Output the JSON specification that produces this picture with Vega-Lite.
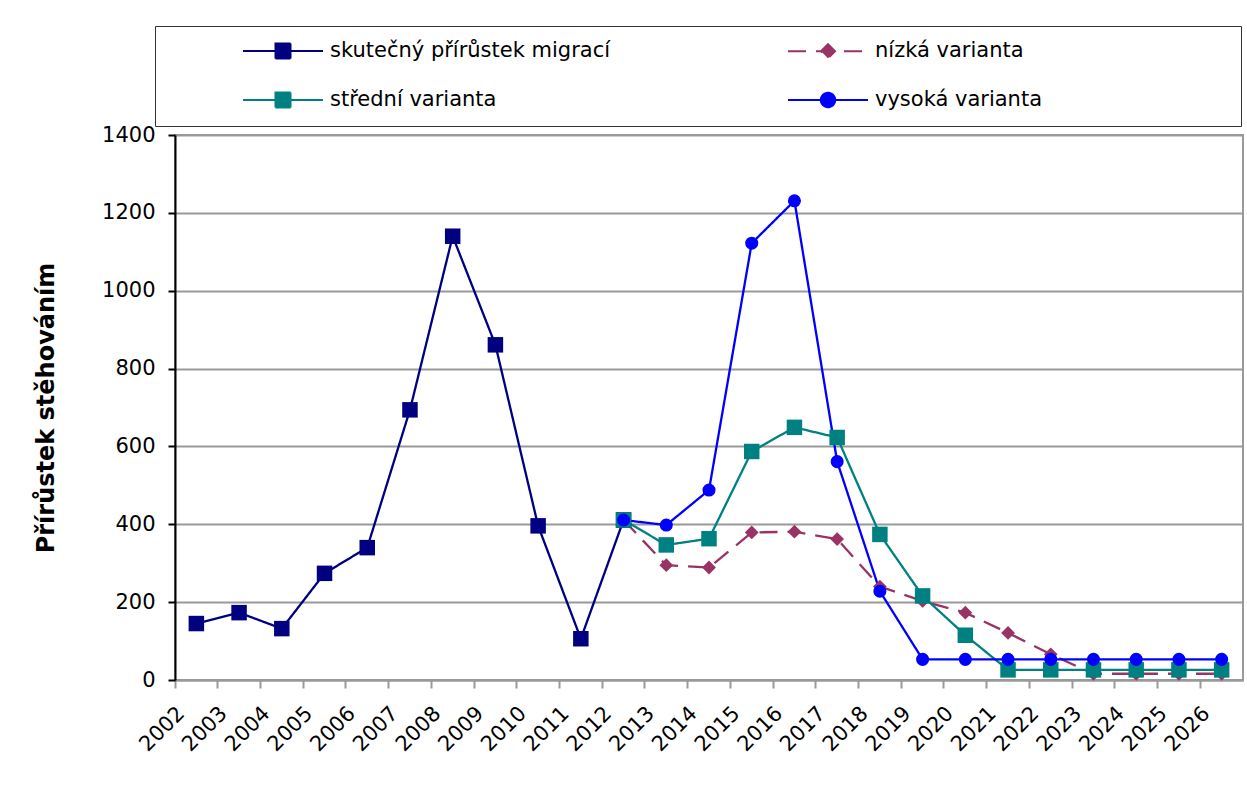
{
  "$schema": "https://vega.github.io/schema/vega-lite/v6.json",
  "width": 1068,
  "height": 545,
  "autosize": "none",
  "padding": {"left": 175, "top": 135, "right": 4, "bottom": 119},
  "background": "white",
  "config": {
    "font": "DejaVu Sans",
    "view": {"stroke": "#999999", "strokeWidth": 2},
    "legend": {
      "orient": "none",
      "legendX": -20,
      "legendY": -109,
      "columns": 2,
      "padding": 14.5,
      "strokeColor": "#333333",
      "fillColor": "white",
      "symbolSize": 256,
      "symbolStrokeWidth": 2,
      "symbolOpacity": 1,
      "symbolOffset": 63,
      "labelOffset": 76.5,
      "labelFontSize": 21,
      "labelColor": "black",
      "labelLimit": 0,
      "columnPadding": 33,
      "rowPadding": 26
    }
  },
  "data": {
    "values": [
      {"year": "2002", "series": "skutečný přírůstek migrací", "value": 145},
      {"year": "2003", "series": "skutečný přírůstek migrací", "value": 173},
      {"year": "2004", "series": "skutečný přírůstek migrací", "value": 132},
      {"year": "2005", "series": "skutečný přírůstek migrací", "value": 274},
      {"year": "2006", "series": "skutečný přírůstek migrací", "value": 340},
      {"year": "2007", "series": "skutečný přírůstek migrací", "value": 694},
      {"year": "2008", "series": "skutečný přírůstek migrací", "value": 1140},
      {"year": "2009", "series": "skutečný přírůstek migrací", "value": 861},
      {"year": "2010", "series": "skutečný přírůstek migrací", "value": 396},
      {"year": "2011", "series": "skutečný přírůstek migrací", "value": 106},
      {"year": "2012", "series": "skutečný přírůstek migrací", "value": 411},
      {"year": "2012", "series": "nízká varianta", "value": 411},
      {"year": "2013", "series": "nízká varianta", "value": 295},
      {"year": "2014", "series": "nízká varianta", "value": 289},
      {"year": "2015", "series": "nízká varianta", "value": 379},
      {"year": "2016", "series": "nízká varianta", "value": 381},
      {"year": "2017", "series": "nízká varianta", "value": 362},
      {"year": "2018", "series": "nízká varianta", "value": 240},
      {"year": "2019", "series": "nízká varianta", "value": 203},
      {"year": "2020", "series": "nízká varianta", "value": 173},
      {"year": "2021", "series": "nízká varianta", "value": 121},
      {"year": "2022", "series": "nízká varianta", "value": 66},
      {"year": "2023", "series": "nízká varianta", "value": 16},
      {"year": "2024", "series": "nízká varianta", "value": 16},
      {"year": "2025", "series": "nízká varianta", "value": 16},
      {"year": "2026", "series": "nízká varianta", "value": 16},
      {"year": "2012", "series": "střední varianta", "value": 411},
      {"year": "2013", "series": "střední varianta", "value": 347},
      {"year": "2014", "series": "střední varianta", "value": 363},
      {"year": "2015", "series": "střední varianta", "value": 587},
      {"year": "2016", "series": "střední varianta", "value": 649},
      {"year": "2017", "series": "střední varianta", "value": 623},
      {"year": "2018", "series": "střední varianta", "value": 374},
      {"year": "2019", "series": "střední varianta", "value": 216},
      {"year": "2020", "series": "střední varianta", "value": 115},
      {"year": "2021", "series": "střední varianta", "value": 26},
      {"year": "2022", "series": "střední varianta", "value": 26},
      {"year": "2023", "series": "střední varianta", "value": 26},
      {"year": "2024", "series": "střední varianta", "value": 26},
      {"year": "2025", "series": "střední varianta", "value": 26},
      {"year": "2026", "series": "střední varianta", "value": 26},
      {"year": "2012", "series": "vysoká varianta", "value": 411},
      {"year": "2013", "series": "vysoká varianta", "value": 398},
      {"year": "2014", "series": "vysoká varianta", "value": 488},
      {"year": "2015", "series": "vysoká varianta", "value": 1122},
      {"year": "2016", "series": "vysoká varianta", "value": 1231},
      {"year": "2017", "series": "vysoká varianta", "value": 561},
      {"year": "2018", "series": "vysoká varianta", "value": 228},
      {"year": "2019", "series": "vysoká varianta", "value": 53},
      {"year": "2020", "series": "vysoká varianta", "value": 53},
      {"year": "2021", "series": "vysoká varianta", "value": 53},
      {"year": "2022", "series": "vysoká varianta", "value": 53},
      {"year": "2023", "series": "vysoká varianta", "value": 53},
      {"year": "2024", "series": "vysoká varianta", "value": 53},
      {"year": "2025", "series": "vysoká varianta", "value": 53},
      {"year": "2026", "series": "vysoká varianta", "value": 53}
    ]
  },
  "encoding": {
    "x": {
      "field": "year",
      "type": "ordinal",
      "scale": {"type": "band", "paddingInner": 0, "paddingOuter": 0},
      "axis": {
        "title": null,
        "bandPosition": 0,
        "labelAngle": -45,
        "labelAlign": "right",
        "labelBaseline": "middle",
        "labelFontSize": 21,
        "labelColor": "black",
        "labelPadding": 22,
        "labelOffset": -15,
        "tickSize": 8,
        "tickColor": "#999999",
        "tickWidth": 2,
        "domainColor": "#999999",
        "domainWidth": 2,
        "grid": false
      }
    },
    "y": {
      "field": "value",
      "type": "quantitative",
      "scale": {"domain": [0, 1400], "nice": false},
      "axis": {
        "title": "Přírůstek stěhováním",
        "titleFontSize": 24,
        "titleFontWeight": "bold",
        "titleColor": "black",
        "titlePadding": 43,
        "format": "d",
        "values": [0, 200, 400, 600, 800, 1000, 1200, 1400],
        "labelFontSize": 21,
        "labelColor": "black",
        "labelPadding": 13,
        "tickSize": 7,
        "tickColor": "black",
        "tickWidth": 2,
        "domainColor": "black",
        "domainWidth": 2,
        "grid": true,
        "gridColor": "#999999",
        "gridWidth": 2
      }
    },
    "color": {
      "field": "series",
      "type": "nominal",
      "title": null,
      "scale": {
        "domain": ["skutečný přírůstek migrací", "střední varianta", "nízká varianta", "vysoká varianta"],
        "range": ["#000080", "#008080", "#993366", "#0000FF"]
      }
    }
  },
  "layer": [
    {
      "mark": {"type": "line", "strokeWidth": 2.3},
      "encoding": {
        "strokeDash": {
          "field": "series",
          "type": "nominal",
          "title": null,
          "scale": {
            "domain": ["skutečný přírůstek migrací", "střední varianta", "nízká varianta", "vysoká varianta"],
            "range": [[1, 0], [1, 0], [18, 10], [1, 0]]
          }
        }
      }
    },
    {
      "transform": [{"filter": "datum.series === 'nízká varianta'"}],
      "mark": {"type": "point", "filled": true, "opacity": 1, "shape": "diamond", "size": 190}
    },
    {
      "transform": [{"filter": "datum.series === 'skutečný přírůstek migrací' || datum.series === 'střední varianta'"}],
      "mark": {"type": "point", "filled": true, "opacity": 1, "shape": "square", "size": 240}
    },
    {
      "transform": [{"filter": "datum.series === 'vysoká varianta'"}],
      "mark": {"type": "point", "filled": true, "opacity": 1, "shape": "circle", "size": 170}
    },
    {
      "mark": {"type": "point", "filled": true, "opacity": 0},
      "encoding": {
        "shape": {
          "field": "series",
          "type": "nominal",
          "title": null,
          "scale": {
            "domain": ["skutečný přírůstek migrací", "střední varianta", "nízká varianta", "vysoká varianta"],
            "range": [
              "M0,0H10M4.0625,-0.9375H5.9375V0.9375H4.0625ZM54.3,0",
              "M0,0H10M4.0625,-0.9375H5.9375V0.9375H4.0625ZM54.3,0",
              "M0,0H10M5,-0.875L5.875,0L5,0.875L4.125,0ZM54.3,0",
              "M0,0H10M4.1,0A0.9,0.9,0,1,0,5.9,0A0.9,0.9,0,1,0,4.1,0ZM54.3,0"
            ]
          }
        },
        "strokeDash": {
          "field": "series",
          "type": "nominal",
          "title": null
        }
      }
    }
  ]
}
